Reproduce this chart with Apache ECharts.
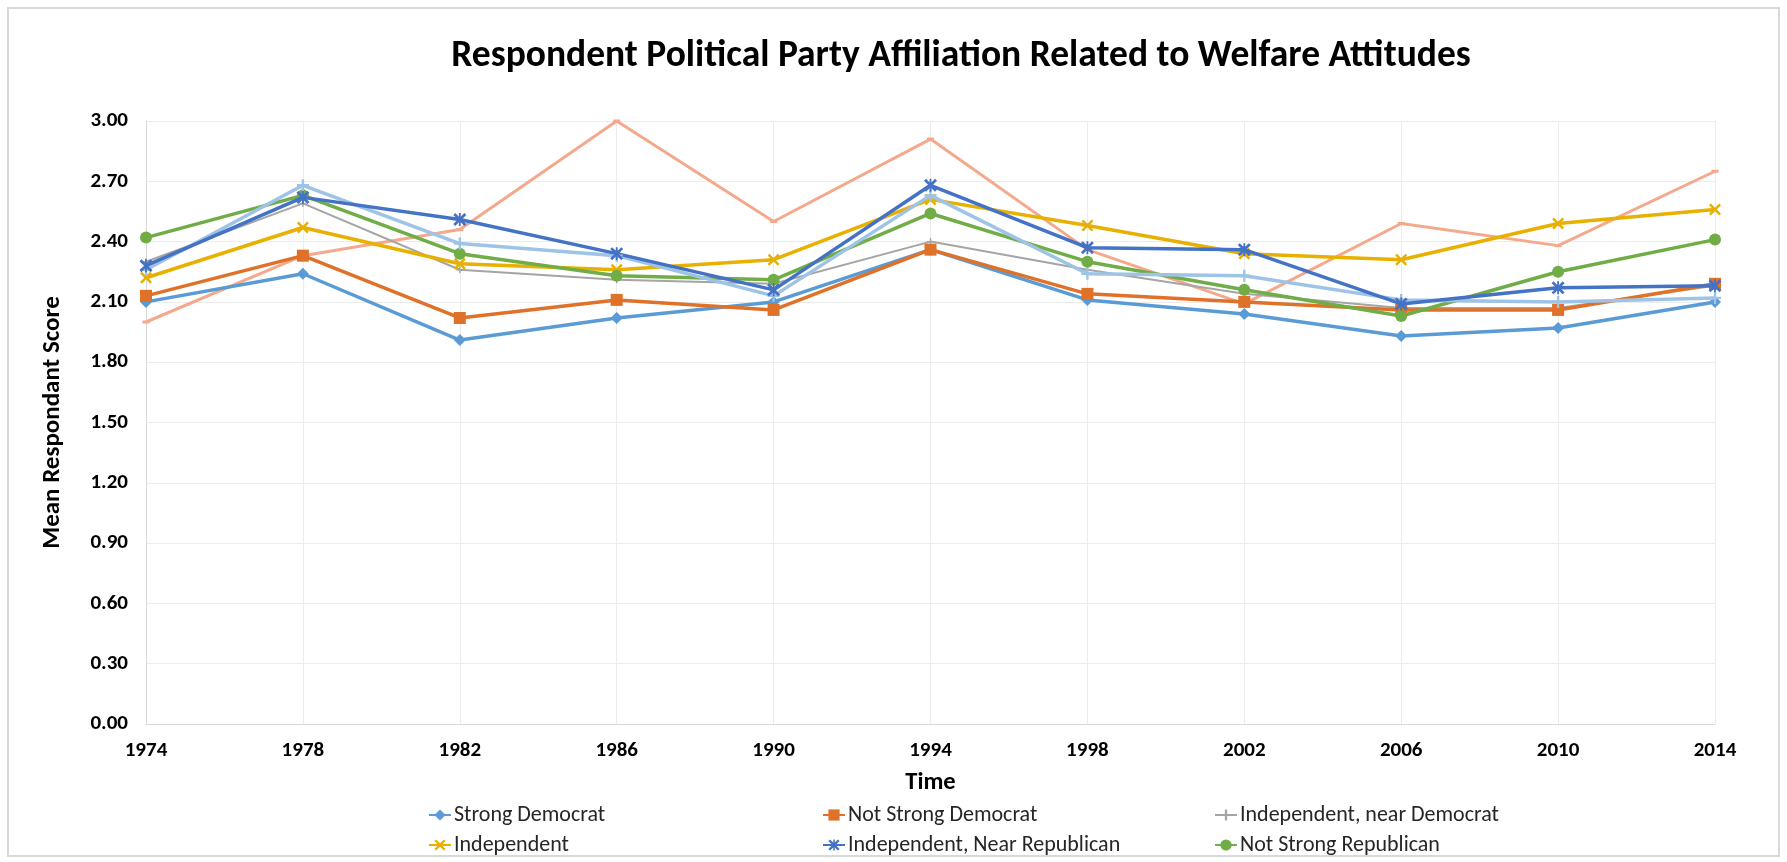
<!DOCTYPE html>
<html>
<head>
<meta charset="utf-8">
<script src="https://cdn.jsdelivr.net/npm/echarts@6/dist/echarts.min.js"></script>
<style>
html,body{margin:0;padding:0;background:#fff;}
#chart{width:1787px;height:862px;}
</style>
</head>
<body>
<div id="chart"></div>
<script>
const years = ['1974','1978','1982','1986','1990','1994','1998','2002','2006','2010','2014'];
const yTicks = [0, 0.3, 0.6, 0.9, 1.2, 1.5, 1.8, 2.1, 2.4, 2.7, 3.0];
const strongDemocrat = [2.10, 2.24, 1.91, 2.02, 2.10, 2.36, 2.11, 2.04, 1.93, 1.97, 2.10];
const notStrongDemocrat = [2.13, 2.33, 2.02, 2.11, 2.06, 2.36, 2.14, 2.10, 2.06, 2.06, 2.19];
const independentNearDemocrat = [2.30, 2.59, 2.26, 2.21, 2.19, 2.40, 2.26, 2.14, 2.07, 2.07, 2.18];
const independent = [2.22, 2.47, 2.29, 2.26, 2.31, 2.61, 2.48, 2.34, 2.31, 2.49, 2.56];
const independentNearRepublican = [2.28, 2.62, 2.51, 2.34, 2.16, 2.68, 2.37, 2.36, 2.09, 2.17, 2.18];
const notStrongRepublican = [2.42, 2.63, 2.34, 2.23, 2.21, 2.54, 2.30, 2.16, 2.03, 2.25, 2.41];
const strongRepublican = [2.26, 2.68, 2.39, 2.33, 2.13, 2.63, 2.24, 2.23, 2.11, 2.10, 2.12];
const otherParty = [2.00, 2.33, 2.46, 3.00, 2.50, 2.91, 2.36, 2.09, 2.49, 2.38, 2.75];

const FONT = 'Carlito, Lato, "Open Sans", sans-serif';
const X_SYM = 'path://M0,1.5L1.5,0L5,3.5L8.5,0L10,1.5L6.5,5L10,8.5L8.5,10L5,6.5L1.5,10L0,8.5L3.5,5Z';
const PLUS_SYM = 'path://M4,0H6V4H10V6H6V10H4V6H0V4H4Z';
const STAR_SYM = 'path://M0,1.5L1.5,0L4.3,2.8V0H5.7V2.8L8.5,0L10,1.5L6.5,5L10,8.5L8.5,10L5.7,7.2V10H4.3V7.2L1.5,10L0,8.5L3.5,5Z';

function mk(name, data, color, symbol, size, width, z) {
  return {
    name: name, type: 'line', data: data, symbol: symbol, symbolSize: size,
    showSymbol: true, z: z || 2,
    lineStyle: {color: color, width: width},
    itemStyle: {color: color},
    emphasis: {disabled: true}
  };
}

const series = [
  mk('Other Party', otherParty, '#F4A98C', 'rect', [7, 3], 3, 1),
  mk('Independent, near Democrat', independentNearDemocrat, '#A5A5A5', PLUS_SYM, 7, 2, 2),
  mk('Strong Democrat', strongDemocrat, '#5B9BD5', 'diamond', 12, 3.5, 3),
  mk('Not Strong Democrat', notStrongDemocrat, '#E07128', 'rect', 12, 3.5, 3),
  mk('Independent', independent, '#E8B000', X_SYM, 12, 3.5, 3),
  mk('Not Strong Republican', notStrongRepublican, '#70AD47', 'circle', 12, 3.5, 3),
  mk('Strong Republican', strongRepublican, '#9DC3E6', PLUS_SYM, 12, 3.5, 4),
  mk('Independent, Near Republican', independentNearRepublican, '#4472C4', STAR_SYM, 13, 3.5, 4)
];

const legendNames = [
  ['Strong Democrat', 428, 804],
  ['Not Strong Democrat', 822, 804],
  ['Independent, near Democrat', 1214, 804],
  ['Independent', 428, 834],
  ['Independent, Near Republican', 822, 834],
  ['Not Strong Republican', 1214, 834]
];

const legends = legendNames.map(function (l) {
  return {
    data: [l[0]], left: l[1], top: l[2], itemWidth: 22, itemHeight: 14, itemGap: 0,
    selectedMode: false, padding: 0,
    textStyle: {fontFamily: FONT, fontSize: 22, color: '#262626', padding: [0, 0, 0, -2]}
  };
});

const chart = echarts.init(document.getElementById('chart'));
chart.setOption({
  animation: false,
  backgroundColor: '#fff',
  title: {
    text: 'Respondent Political Party Affiliation Related to Welfare Attitudes',
    left: 956, top: 33, textAlign: 'center',
    textStyle: {fontFamily: FONT, fontSize: 37.5, fontWeight: 'bold', color: '#000'}
  },
  graphic: [{
    type: 'rect', shape: {x: 8, y: 8, width: 1771, height: 848},
    style: {fill: 'none', stroke: '#d9d9d9', lineWidth: 2}, silent: true
  }],
  legend: legends,
  grid: {left: 146, right: 72, top: 121, bottom: 138, containLabel: false},
  xAxis: {
    type: 'category', data: years, boundaryGap: false,
    name: 'Time', nameLocation: 'middle', nameGap: 46,
    nameTextStyle: {fontFamily: FONT, fontSize: 24.5, fontWeight: 'bold', color: '#000'},
    axisLine: {lineStyle: {color: '#d9d9d9', width: 1}},
    axisTick: {show: false},
    axisLabel: {fontFamily: FONT, fontSize: 21, fontWeight: 'bold', color: '#000', margin: 16},
    splitLine: {show: true, lineStyle: {color: '#ececec', width: 1}}
  },
  yAxis: {
    type: 'value', min: 0, max: 3, interval: 0.3,
    name: 'Mean Respondant Score', nameLocation: 'middle', nameGap: 81,
    nameTextStyle: {fontFamily: FONT, fontSize: 25, fontWeight: 'bold', color: '#000'},
    axisLine: {show: true, lineStyle: {color: '#d9d9d9', width: 1}},
    axisTick: {show: false},
    axisLabel: {
      fontFamily: FONT, fontSize: 21, fontWeight: 'bold', color: '#000', margin: 18,
      formatter: function (v) { return v.toFixed(2); }
    },
    splitLine: {show: true, lineStyle: {color: '#ececec', width: 1}}
  },
  series: series
});
</script>
</body>
</html>
